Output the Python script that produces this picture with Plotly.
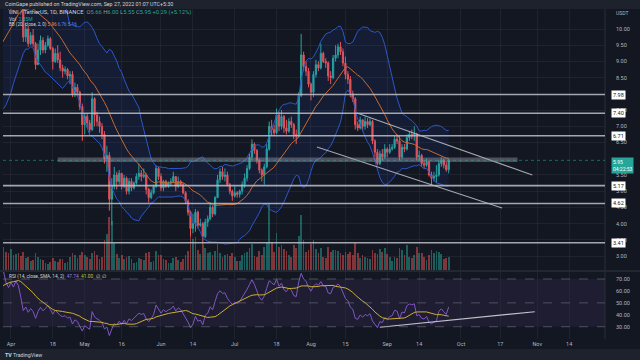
import pandas as pd
import numpy as np
import plotly.graph_objects as go

# ---------------- data ----------------
warmup_closes = [9.0, 9.4, 9.6, 9.8, 9.5, 9.3, 9.9, 10.2, 10.0, 9.6, 9.4, 9.1, 8.8, 8.5,
                 8.6, 8.9, 8.5, 8.3, 8.4, 8.2, 8.5, 8.6, 9.0, 8.9, 9.3, 9.6, 9.4, 9.8,
                 10.2, 10.4, 10.7, 10.6, 10.8, 11.0]

first_day = "2022-03-28"

closes = [11.2, 11.4, 11.0, 10.8,
          11.2, 11.0, 11.5, 11.3, 10.7, 9.75, 10.0, 9.55, 9.8, 9.55,
          8.9, 9.35, 9.65, 9.35, 9.5, 9.7, 9.4, 9.0, 9.25, 9.05,
          8.8, 8.7, 8.75, 8.55, 8.6, 8.0, 8.2, 8.05, 7.6, 7.05,
          7.3, 7.1, 6.9, 7.85, 7.35, 7.15, 7.0, 6.75, 6.0, 6.1,
          4.75, 5.15, 5.5, 5.3, 5.55, 5.15, 5.4, 5.0, 5.3, 5.1,
          5.25, 5.45, 5.55, 5.45, 5.5, 5.05, 4.8, 4.95, 5.15, 5.7, 5.45,
          5.1, 5.3, 5.15, 5.25, 5.3, 5.45, 5.15, 5.3, 5.2, 4.95,
          4.7, 4.35, 3.85, 4.0, 4.35, 3.95, 4.0, 3.6, 4.05, 4.15,
          4.5, 4.3, 4.8, 5.35, 5.6, 5.45, 5.5, 5.2, 5.0, 4.85,
          4.95, 4.9, 5.0, 5.2, 5.4, 5.7, 6.05, 6.45, 6.25, 5.95,
          5.65, 5.5, 5.75, 6.3, 7.0, 6.9, 6.8, 7.35, 7.0, 7.3,
          6.95, 6.85, 7.15, 7.05, 6.75, 6.7, 7.95, 9.2, 8.85, 8.7, 8.3,
          8.05, 8.6, 8.9, 8.8, 9.25, 9.0, 8.95, 8.55, 8.5, 9.1,
          9.2, 9.45, 9.3, 8.95, 8.6, 8.45, 8.0, 7.85, 7.05, 6.95,
          7.2, 7.0, 7.15, 7.05, 7.15, 6.55, 6.2, 5.85, 6.15, 6.05, 6.3,
          6.2, 6.3, 6.35, 6.6, 6.55, 6.05, 6.35, 6.3, 6.65, 6.75,
          6.7, 6.75, 6.05, 6.1, 5.85, 5.8, 5.9, 5.5, 5.4, 5.45,
          5.5, 5.85, 5.95, 5.8, 5.66, 5.95]

highs = [11.5, 11.8, 11.5, 11.3,
         11.4, 11.6, 11.7, 11.6, 11.4, 10.75, 10.2, 10.1, 9.9, 10.0,
         9.6, 9.55, 9.8, 9.75, 9.6, 9.8, 9.75, 9.45, 9.4, 9.5,
         9.3, 8.9, 8.85, 8.8, 8.7, 8.7, 8.35, 8.3, 8.1, 7.7,
         7.4, 7.4, 7.2, 8.05, 7.9, 7.45, 7.3, 7.1, 6.85, 6.4,
         6.2, 5.4, 5.75, 5.6, 5.65, 5.55, 5.5, 5.45, 5.4, 5.4,
         5.3, 5.55, 5.85, 5.65, 5.7, 5.55, 5.1, 5.05, 5.2, 5.8, 5.75,
         5.55, 5.35, 5.35, 5.3, 5.4, 5.6, 5.45, 5.45, 5.35, 5.25,
         5.0, 4.75, 4.4, 4.3, 4.45, 4.4, 4.15, 4.05, 4.15, 4.25,
         4.65, 4.55, 4.85, 5.5, 5.7, 5.75, 5.7, 5.6, 5.25, 5.05,
         5.15, 5.0, 5.05, 5.3, 5.55, 5.8, 6.15, 6.6, 6.5, 6.3,
         6.0, 5.7, 5.85, 6.45, 7.15, 7.2, 7.05, 7.55, 7.45, 7.5,
         7.35, 7.2, 7.25, 7.3, 7.1, 6.9, 8.05, 9.85, 9.3, 9.0, 8.8,
         8.35, 8.7, 9.05, 9.0, 9.55, 9.3, 9.1, 9.0, 8.7, 9.2,
         9.5, 9.55, 9.6, 9.4, 9.15, 8.7, 8.55, 8.1, 7.9, 7.15,
         7.3, 7.2, 7.3, 7.25, 7.25, 7.2, 6.6, 6.3, 6.25, 6.3, 6.45,
         6.35, 6.45, 6.45, 6.7, 6.75, 6.7, 6.45, 6.45, 6.75, 6.85,
         6.9, 7.0, 6.8, 6.25, 6.15, 5.95, 6.0, 5.95, 5.6, 5.6,
         5.8, 5.95, 6.05, 6.0, 5.9, 6.0]

lows = [10.8, 11.0, 10.8, 10.6,
        10.5, 10.9, 10.9, 10.8, 10.6, 9.6, 9.6, 9.45, 9.5, 9.45,
        8.75, 8.9, 9.2, 9.25, 9.25, 9.45, 9.35, 8.75, 8.95, 8.95,
        8.7, 8.5, 8.6, 8.45, 8.3, 7.9, 7.9, 7.95, 7.5, 6.55,
        6.75, 6.95, 6.8, 6.85, 7.0, 7.0, 6.8, 6.6, 5.85, 5.6,
        4.4, 3.95, 5.05, 5.05, 5.2, 5.05, 5.1, 4.9, 4.9, 5.0,
        5.05, 5.2, 5.35, 5.3, 5.4, 4.9, 4.65, 4.75, 4.9, 5.1, 5.35,
        5.0, 5.0, 5.1, 5.1, 5.15, 5.25, 5.0, 5.1, 5.15, 4.9,
        4.6, 4.25, 3.6, 3.7, 3.75, 3.85, 3.9, 3.35, 3.55, 3.9,
        4.1, 4.2, 4.25, 4.8, 5.25, 5.35, 5.3, 5.15, 4.9, 4.7,
        4.8, 4.8, 4.8, 4.9, 5.1, 5.3, 5.65, 5.95, 6.15, 5.85,
        5.55, 5.3, 5.2, 5.7, 6.25, 6.7, 6.7, 6.75, 6.85, 6.9,
        6.8, 6.75, 6.8, 6.95, 6.6, 6.45, 6.65, 7.9, 8.7, 8.55, 8.2,
        7.8, 7.9, 8.5, 8.7, 8.75, 8.95, 8.8, 8.4, 8.3, 8.45,
        9.0, 9.1, 9.2, 8.85, 8.45, 8.3, 7.9, 7.75, 6.9, 6.85,
        6.9, 6.85, 6.9, 6.95, 7.0, 6.45, 6.05, 5.8, 5.8, 5.95, 6.0,
        6.05, 6.15, 6.25, 6.3, 6.45, 5.95, 6.0, 6.2, 6.25, 6.55,
        6.6, 6.55, 5.95, 5.95, 5.75, 5.7, 5.75, 5.45, 5.2, 5.3,
        5.25, 5.45, 5.75, 5.7, 5.6, 5.55]

volumes_m = [3.6, 4.2, 3.3, 3.0,
             3.8, 2.6, 2.8, 3.0, 2.5, 3.2, 2.2, 2.4, 1.6, 1.8,
             3.0, 2.4, 1.9, 1.8, 1.3, 1.1, 1.4, 2.2, 1.6, 1.5,
             1.9, 2.0, 1.2, 1.4, 2.4, 3.0, 2.6, 2.1, 2.6, 3.3,
             2.7, 2.4, 2.0, 3.1, 3.4, 2.6, 2.0, 2.4, 5.4, 6.5,
             9.5, 8.8, 4.8, 2.8, 2.2, 2.6, 2.0, 2.4, 2.5, 2.0,
             1.3, 1.4, 2.2, 2.0, 1.8, 3.0, 3.2, 1.5, 1.6, 3.4, 2.6,
             2.7, 2.0, 1.8, 1.2, 1.2, 2.1, 2.4, 1.8, 1.5, 2.0,
             2.6, 3.4, 7.2, 5.6, 5.9, 3.6, 2.8, 4.4, 4.0, 3.0,
             3.2, 2.7, 3.4, 4.6, 3.0, 2.4, 2.6, 2.8, 2.5, 3.0,
             2.4, 1.6, 1.7, 2.6, 3.1, 3.3, 4.0, 4.6, 2.5, 2.4,
             3.4, 2.6, 4.2, 5.0, 12.0, 5.0, 3.2, 6.6, 4.2, 4.4,
             3.7, 3.4, 2.6, 2.3, 4.4, 4.0, 6.0, 9.8, 5.4, 3.2, 3.5,
             4.6, 5.4, 3.8, 3.0, 4.0, 2.4, 2.2, 4.2, 3.2, 3.6,
             3.6, 3.4, 3.0, 2.6, 3.2, 2.8, 3.3, 2.6, 4.8, 3.0,
             2.2, 2.6, 2.4, 2.2, 2.0, 3.6, 3.0, 2.8, 3.8, 3.2, 4.0,
             2.8, 2.4, 1.6, 2.4, 2.2, 4.0, 3.6, 2.6, 4.4, 2.4,
             2.2, 2.6, 4.2, 3.0, 3.0, 2.4, 1.8, 2.6, 3.6, 3.0,
             3.4, 3.2, 2.8, 2.0, 2.2, 2.35]

levels = [7.98, 7.40, 6.71, 5.17, 4.62, 3.41]
zone_dates = ["2022-04-20", "2022-10-24"]
zone_prices = [5.90, 6.04]
channel_top_dates = ["2022-08-19 17:00", "2022-10-30 00:00"]
channel_top_prices = [7.41, 5.50]
channel_bot_dates = ["2022-08-03 10:00", "2022-10-17 17:00"]
channel_bot_prices = [6.36, 4.48]
rsi_line_dates = ["2022-08-29", "2022-10-31"]
rsi_line_values = [29.6, 42.6]
last_price = 5.95

tick_dates = ["2022-04-01", "2022-04-18", "2022-05-01", "2022-05-16", "2022-06-01",
              "2022-06-14", "2022-07-01", "2022-07-18", "2022-08-01", "2022-08-15",
              "2022-09-01", "2022-09-14", "2022-10-01", "2022-10-17", "2022-11-01",
              "2022-11-14"]
tick_text = ["Apr", "18", "May", "16", "Jun", "14", "Jul", "18", "Aug", "15",
             "Sep", "14", "Oct", "17", "Nov", "14"]
price_ticks = [3.0, 3.5, 4.0, 4.5, 5.0, 5.5, 6.5, 7.0, 7.5, 8.5, 9.0, 9.5, 10.0]
rsi_ticks = [30, 40, 50, 60, 70]

# ---------------- derived series ----------------
start = pd.Timestamp(first_day)
dates = pd.date_range(start, periods=len(closes), freq="D")
warm_dates = pd.date_range(end=start - pd.Timedelta(days=1), periods=len(warmup_closes), freq="D")
all_dates = warm_dates.append(dates)
series = pd.Series(warmup_closes + closes, index=all_dates)
opens = [warmup_closes[-1]] + closes[:-1]

basis = series.rolling(20).mean()
dev = series.rolling(20).std(ddof=0)
upper = basis + 2 * dev
lower = basis - 2 * dev

delta = series.diff().fillna(0)
gain = delta.clip(lower=0)
loss = (-delta).clip(lower=0)
avg_g = gain.ewm(alpha=1 / 14, adjust=False).mean()
avg_l = loss.ewm(alpha=1 / 14, adjust=False).mean()
rsi = 100 - 100 / (1 + avg_g / avg_l)
rsi_ma = rsi.rolling(14).mean()

vis = all_dates >= pd.Timestamp("2022-03-22")
vd = all_dates[vis]

# ---------------- styling ----------------
BG = "#131722"
STRIP = "#1e222d"
GRID = "rgba(42,46,57,0.55)"
TXT = "#b2b5be"
UP = "#26a69a"
DN = "#ef5350"
FONT = "Roboto"

W, H = 640, 360
ML, MR, MT, MB = 3, 35, 9, 21
PW = W - ML - MR
PH = H - MT - MB


def py(ypix):
    return (H - MB - ypix) / PH


def px(xpix):
    return (xpix - ML) / PW


main_dom = [py(270), 1.0]
rsi_dom = [0.0, py(272)]
price_range = [2.5686, 10.617]
rsi_range = [19.7, 75.87]

fig = go.Figure()

# volume (base axis of the main pane)
vcol = ["rgba(38,166,154,0.5)" if c >= o else "rgba(239,83,80,0.5)" for o, c in zip(opens, closes)]
fig.add_trace(go.Bar(x=dates, y=volumes_m, marker=dict(color=vcol, line=dict(width=0)),
                     width=0.7 * 86400000, xaxis="x", yaxis="y", hoverinfo="skip", showlegend=False))

# Bollinger bands
fig.add_trace(go.Scatter(x=vd, y=upper[vis], mode="lines", line=dict(color="#2d56c9", width=1),
                         xaxis="x", yaxis="y3", hoverinfo="skip", showlegend=False))
fig.add_trace(go.Scatter(x=vd, y=lower[vis], mode="lines", line=dict(color="#2d56c9", width=1),
                         fill="tonexty", fillcolor="rgba(41,98,255,0.08)",
                         xaxis="x", yaxis="y3", hoverinfo="skip", showlegend=False))
fig.add_trace(go.Scatter(x=vd, y=basis[vis], mode="lines", line=dict(color="#c9692b", width=1),
                         xaxis="x", yaxis="y3", hoverinfo="skip", showlegend=False))

# candles
fig.add_trace(go.Candlestick(x=dates, open=opens, high=highs, low=lows, close=closes,
                             increasing=dict(line=dict(color=UP, width=1), fillcolor=UP),
                             decreasing=dict(line=dict(color=DN, width=1), fillcolor=DN),
                             whiskerwidth=0, xaxis="x", yaxis="y3", hoverinfo="skip",
                             showlegend=False))

# channel lines
for dx, dy in [(channel_top_dates, channel_top_prices), (channel_bot_dates, channel_bot_prices)]:
    fig.add_trace(go.Scatter(x=dx, y=dy, mode="lines", line=dict(color="rgba(200,202,208,0.8)", width=1.1),
                             xaxis="x", yaxis="y3", hoverinfo="skip", showlegend=False))

# RSI pane
fig.add_trace(go.Scatter(x=vd, y=rsi[vis], mode="lines", line=dict(color="#7e57c2", width=1),
                         xaxis="x2", yaxis="y2", hoverinfo="skip", showlegend=False))
fig.add_trace(go.Scatter(x=vd, y=rsi_ma[vis], mode="lines", line=dict(color="#cdb032", width=1),
                         xaxis="x2", yaxis="y2", hoverinfo="skip", showlegend=False))
fig.add_trace(go.Scatter(x=rsi_line_dates, y=rsi_line_values, mode="lines",
                         line=dict(color="rgba(210,212,218,0.9)", width=1.1),
                         xaxis="x2", yaxis="y2", hoverinfo="skip", showlegend=False))

shapes = []
# header / footer strips
shapes.append(dict(type="rect", xref="paper", yref="paper", x0=px(0), x1=px(W), y0=py(MT), y1=py(0),
                   fillcolor=STRIP, line=dict(width=0), layer="below"))
shapes.append(dict(type="rect", xref="paper", yref="paper", x0=px(0), x1=px(W), y0=py(H), y1=py(349),
                   fillcolor=STRIP, line=dict(width=0), layer="below"))
# pane separator and price-scale border
shapes.append(dict(type="line", xref="paper", yref="paper", x0=px(0), x1=px(W), y0=py(271), y1=py(271),
                   line=dict(color="#2a2e39", width=1.5)))
shapes.append(dict(type="line", xref="paper", yref="paper", x0=1, x1=1, y0=0, y1=1,
                   line=dict(color="#2a2e39", width=1)))
# RSI band
shapes.append(dict(type="rect", xref="paper", yref="y2", x0=0, x1=1, y0=30, y1=70,
                   fillcolor="rgba(126,87,194,0.10)", line=dict(width=0), layer="below"))
for v in [70, 50, 30]:
    shapes.append(dict(type="line", xref="paper", yref="y2", x0=0, x1=1, y0=v, y1=v,
                       line=dict(color="rgba(120,123,134,0.55)", width=1, dash="dash")))
# support zone
shapes.append(dict(type="rect", xref="x", yref="y3", x0=zone_dates[0], x1=zone_dates[1],
                   y0=zone_prices[0], y1=zone_prices[1], fillcolor="rgba(150,153,162,0.45)",
                   line=dict(width=0)))
# horizontal levels
for lv in levels:
    shapes.append(dict(type="line", xref="paper", yref="y3", x0=0, x1=1, y0=lv, y1=lv,
                       line=dict(color="rgba(190,193,200,0.85)", width=1.6)))
# last price line
shapes.append(dict(type="line", xref="paper", yref="y3", x0=0, x1=1, y0=last_price, y1=last_price,
                   line=dict(color="rgba(38,166,154,0.55)", width=1, dash="dot")))

annotations = []
lab_x = px(611)
for lv in levels:
    annotations.append(dict(xref="paper", yref="y3", x=lab_x, y=lv, text=f"{lv:.2f}", showarrow=False,
                            xanchor="left", yanchor="middle", bgcolor="#ffffff",
                            font=dict(family=FONT, size=5.5, color="#131722"), borderpad=1))
annotations.append(dict(xref="paper", yref="y3", x=lab_x, y=6.045, text="5.95<br>04:22:53",
                        showarrow=False, xanchor="left", yanchor="top", align="left", bgcolor=UP,
                        font=dict(family=FONT, size=5, color="#ffffff"), borderpad=1))
annotations.append(dict(xref="paper", yref="paper", x=px(614), y=py(13), text="USDT", showarrow=False,
                        xanchor="left", yanchor="middle", font=dict(family=FONT, size=5, color=TXT)))

annotations.append(dict(xref="paper", yref="paper", x=px(3), y=py(4),
                        text="CoinGape published on TradingView.com, Sep 27, 2022 01:07 UTC+5:30",
                        showarrow=False, xanchor="left", yanchor="middle",
                        font=dict(family=FONT, size=5.3, color="#d1d4dc")))

G = "#26a69a"
L1 = ('<span style="color:#d1d4dc">UNI / TetherUS, 1D, BINANCE</span>  '
      f'<span style="color:#9598a1">O</span><span style="color:{G}">5.66</span> '
      f'<span style="color:#9598a1">H</span><span style="color:{G}">6.00</span> '
      f'<span style="color:#9598a1">L</span><span style="color:{G}">5.55</span> '
      f'<span style="color:#9598a1">C</span><span style="color:{G}">5.95</span> '
      f'<span style="color:{G}">+0.29 (+5.12%)</span>')
L2 = f'<span style="color:#d1d4dc">Vol</span>  <span style="color:{G}">2.35M</span>'
L3 = ('<span style="color:#d1d4dc">BB (20, close, 2, 0)</span> '
      '<span style="color:#ff8a3d">5.96</span> <span style="color:#5b8cff">6.76</span> '
      '<span style="color:#5b8cff">5.16</span>')
L4 = ('<span style="color:#d1d4dc">RSI (14, close, SMA, 14, 2)</span>  '
      '<span style="color:#9c7ee0">47.74</span>  <span style="color:#d9bf3a">41.00</span>  '
      '<span style="color:#d1d4dc">∅  ∅</span>')
for txt, ypix, fs in [(L1, 13, 5.8), (L2, 19, 5), (L3, 25, 4.6), (L4, 276, 4.8)]:
    annotations.append(dict(xref="paper", yref="paper", x=px(7), y=py(ypix), text=txt, showarrow=False,
                            xanchor="left", yanchor="middle", font=dict(family=FONT, size=fs)))

annotations.append(dict(xref="paper", yref="paper", x=px(3), y=py(355),
                        text='<b>TV</b> TradingView', showarrow=False, xanchor="left", yanchor="middle",
                        font=dict(family=FONT, size=5.3, color="#d1d4dc")))

xrange = ["2022-03-28 18:00", "2022-11-28 13:30"]
common_x = dict(type="date", range=xrange, tickvals=tick_dates, ticktext=tick_text,
                showgrid=True, gridcolor=GRID, gridwidth=1, zeroline=False, showline=False,
                ticks="", rangeslider=dict(visible=False), fixedrange=True)

fig.update_layout(
    width=W, height=H, margin=dict(l=ML, r=MR, t=MT, b=MB),
    paper_bgcolor=BG, plot_bgcolor=BG, showlegend=False, bargap=0,
    font=dict(family=FONT, color=TXT, size=6),
    xaxis=dict(**common_x, anchor="y", showticklabels=False),
    xaxis2=dict(**common_x, anchor="y2", matches="x", showticklabels=True,
                tickfont=dict(family=FONT, size=5.5, color=TXT)),
    yaxis=dict(domain=main_dom, range=[0, max(volumes_m) / 0.257], visible=False, fixedrange=True),
    yaxis3=dict(domain=main_dom, overlaying="y", side="right", anchor="x", range=price_range,
                tickvals=price_ticks, tickformat=".2f", showgrid=True, gridcolor=GRID, zeroline=False,
                ticks="", ticklabelstandoff=10, tickfont=dict(family=FONT, size=5.5, color=TXT),
                fixedrange=True),
    yaxis2=dict(domain=rsi_dom, side="right", anchor="x2", range=rsi_range, tickvals=rsi_ticks,
                tickformat=".2f", showgrid=False, zeroline=False, ticks="", ticklabelstandoff=10,
                tickfont=dict(family=FONT, size=5.5, color=TXT), fixedrange=True),
    shapes=shapes, annotations=annotations,
)

fig.write_html("out.html", config={"displayModeBar": False})

# remove the browser's default page margin so the figure fills the 640x360 window
with open("out.html", "r", encoding="utf-8") as f:
    page = f.read()
page = page.replace("<head>", "<head><style>html,body{margin:0;padding:0;overflow:hidden;"
                              "background:#131722;}</style>", 1)
with open("out.html", "w", encoding="utf-8") as f:
    f.write(page)
